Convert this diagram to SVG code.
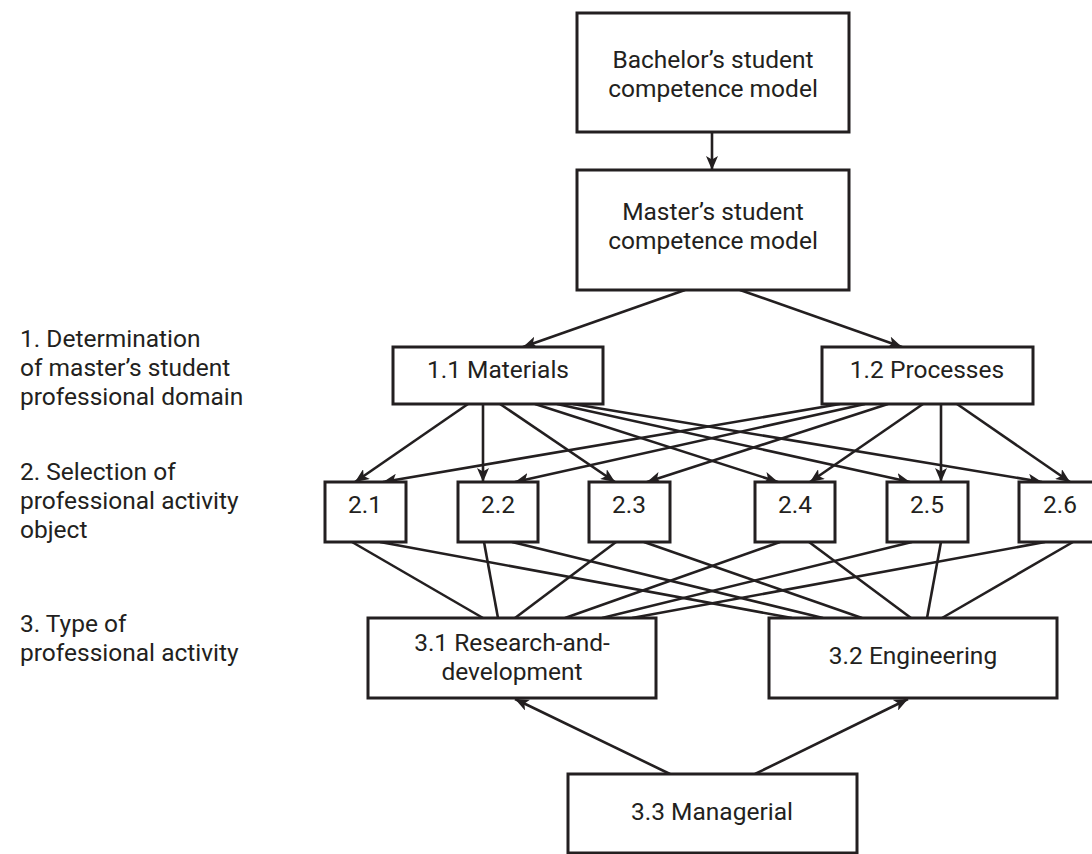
<svg xmlns="http://www.w3.org/2000/svg" width="1092" height="854" viewBox="0 0 1092 854">
<style>
.box{fill:#fff;stroke:#231f20;stroke-width:3}
.t{font-family:Roboto,"Liberation Sans",sans-serif;font-size:24.5px;fill:#231f20}
.c{text-anchor:middle}
.e{stroke:#231f20;stroke-width:2.6;fill:none}
.a{marker-end:url(#ah)}
</style>
<defs>
<marker id="ah" markerUnits="userSpaceOnUse" markerWidth="16" markerHeight="12" refX="14" refY="6" orient="auto" viewBox="0 0 16 12">
<path d="M0,0 L14,6 L0,12 L3.5,6 z" fill="#231f20"/>
</marker>
</defs>
<rect width="1092" height="854" fill="#fff"/>
<g id="connectors">
<line class="e a" x1="712" y1="132" x2="712" y2="170"/>
<line class="e a" x1="685" y1="290" x2="523" y2="347"/>
<line class="e a" x1="740" y1="290" x2="902" y2="347"/>
<line class="e a" x1="468" y1="404" x2="355" y2="482"/>
<line class="e a" x1="483" y1="404" x2="483" y2="482"/>
<line class="e a" x1="500" y1="404" x2="615" y2="482"/>
<line class="e a" x1="535" y1="404" x2="778" y2="482"/>
<line class="e a" x1="557" y1="404" x2="910" y2="482"/>
<line class="e a" x1="573" y1="404" x2="1042" y2="482"/>
<line class="e a" x1="840" y1="404" x2="383" y2="482"/>
<line class="e a" x1="865" y1="404" x2="515" y2="482"/>
<line class="e a" x1="888" y1="404" x2="647" y2="482"/>
<line class="e a" x1="923" y1="404" x2="810" y2="482"/>
<line class="e a" x1="941" y1="404" x2="941" y2="482"/>
<line class="e a" x1="957" y1="404" x2="1070" y2="482"/>
<line class="e" x1="352" y1="542" x2="483" y2="618"/>
<line class="e" x1="380" y1="542" x2="792" y2="618"/>
<line class="e" x1="484" y1="542" x2="498" y2="618"/>
<line class="e" x1="512" y1="542" x2="823" y2="618"/>
<line class="e" x1="616" y1="542" x2="515" y2="618"/>
<line class="e" x1="644" y1="542" x2="862" y2="618"/>
<line class="e" x1="780" y1="542" x2="565" y2="618"/>
<line class="e" x1="809" y1="542" x2="911" y2="618"/>
<line class="e" x1="912" y1="542" x2="602" y2="618"/>
<line class="e" x1="941" y1="542" x2="927" y2="618"/>
<line class="e" x1="1045" y1="542" x2="632" y2="618"/>
<line class="e" x1="1073" y1="542" x2="942" y2="618"/>
<line class="e a" x1="670" y1="774" x2="515" y2="699"/>
<line class="e a" x1="755" y1="774" x2="908" y2="699"/>
</g>
<g id="labels">
<text class="t" x="20" y="347">1. Determination</text>
<text class="t" x="20" y="376">of master’s student</text>
<text class="t" x="20" y="405">professional domain</text>
<text class="t" x="20" y="480">2. Selection of</text>
<text class="t" x="20" y="509">professional activity</text>
<text class="t" x="20" y="538">object</text>
<text class="t" x="20" y="632">3. Type of</text>
<text class="t" x="20" y="661">professional activity</text>
</g>
<g id="bachelor"><rect class="box" x="577" y="13" width="272" height="119"/>
<text class="t c" x="713" y="68">Bachelor’s student</text><text class="t c" x="713" y="97">competence model</text></g>
<g id="master"><rect class="box" x="577" y="170" width="272" height="120"/>
<text class="t c" x="713" y="219.5">Master’s student</text><text class="t c" x="713" y="248.5">competence model</text></g>
<g id="n1_1"><rect class="box" x="393" y="347" width="210" height="57"/><text class="t c" x="498" y="378">1.1 Materials</text></g>
<g id="n1_2"><rect class="box" x="822" y="347" width="211" height="57"/><text class="t c" x="927" y="378">1.2 Processes</text></g>
<g id="n2_1"><rect class="box" x="325" y="482" width="81" height="60"/><text class="t c" x="365" y="513">2.1</text></g>
<g id="n2_2"><rect class="box" x="458" y="482" width="80" height="60"/><text class="t c" x="498" y="513">2.2</text></g>
<g id="n2_3"><rect class="box" x="589" y="482" width="81" height="60"/><text class="t c" x="629" y="513">2.3</text></g>
<g id="n2_4"><rect class="box" x="755" y="482" width="80" height="60"/><text class="t c" x="795" y="513">2.4</text></g>
<g id="n2_5"><rect class="box" x="887" y="482" width="81" height="60"/><text class="t c" x="927" y="513">2.5</text></g>
<g id="n2_6"><rect class="box" x="1019" y="482" width="82" height="60"/><text class="t c" x="1060" y="513">2.6</text></g>
<g id="n3_1"><rect class="box" x="368" y="618" width="288" height="80"/>
<text class="t c" x="512" y="651">3.1 Research-and-</text><text class="t c" x="512" y="680">development</text></g>
<g id="n3_2"><rect class="box" x="769" y="618" width="288" height="80"/><text class="t c" x="913" y="664">3.2 Engineering</text></g>
<g id="n3_3"><rect class="box" x="568" y="774" width="289" height="79"/><text class="t c" x="712" y="820">3.3 Managerial</text></g>
</svg>
